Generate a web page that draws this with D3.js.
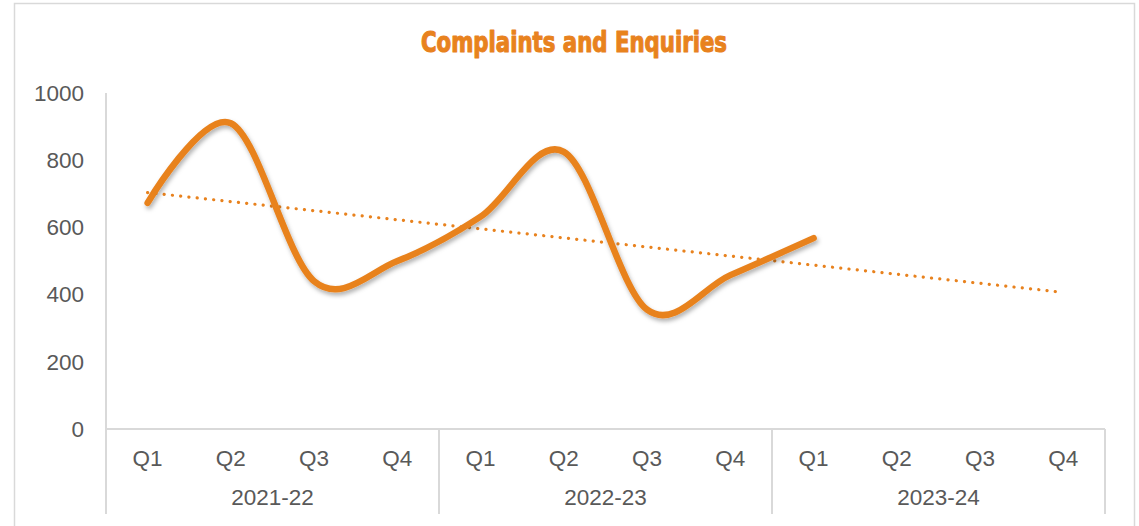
<!DOCTYPE html>
<html>
<head>
<meta charset="utf-8">
<script src="https://cdn.jsdelivr.net/npm/d3@7"></script>
<style>
    html, body { margin: 0; padding: 0; background: #fff; }
    svg { display: block; }
</style>
</head>
<body>
<div id="chart"></div>
<script>
// ==========================================
// DATA
// ==========================================
const years = ['2021-22', '2022-23', '2023-24'];
const quarters = ['Q1', 'Q2', 'Q3', 'Q4'];
const complaints = [673, 910, 440, 500, 632, 825, 355, 458, 568]; // 2023-24 Q2..Q4 not reported yet
const yTicks = [0, 200, 400, 600, 800, 1000];

const OPTS = {
    width: 1139,
    height: 526,
    plot: { left: 106, right: 1105, top: 93, bottom: 429 },
    axisBottom: 514,
    lineColor: '#E8821E',
    gridColor: '#D9D9D9',
    textColor: '#595959',
    labelSize: 22.5,
    font: '"Liberation Sans", Arial, sans-serif'
};

const svg = d3.select('#chart').append('svg')
    .attr('width', OPTS.width)
    .attr('height', OPTS.height);

// drop shadow for the series line
const defs = svg.append('defs');
defs.append('filter')
    .attr('id', 'shadow')
    .attr('x', '-10%').attr('y', '-10%')
    .attr('width', '120%').attr('height', '130%')
    .append('feDropShadow')
    .attr('dx', 1.5).attr('dy', 3)
    .attr('stdDeviation', 2)
    .attr('flood-color', '#000')
    .attr('flood-opacity', 0.3);

// chart frame
svg.append('rect')
    .attr('x', 14.5).attr('y', 3.5)
    .attr('width', 1120).attr('height', 540)
    .attr('fill', 'none')
    .attr('stroke', OPTS.gridColor)
    .attr('stroke-width', 1.5);

// title (condensed heavy face, thickened with a stroke)
svg.append('text')
    .attr('x', 574).attr('y', 52)
    .attr('text-anchor', 'middle')
    .attr('font-family', '"DejaVu Sans Condensed", "Liberation Sans Narrow", sans-serif')
    .attr('font-weight', 'bold')
    .attr('font-size', 29)
    .attr('textLength', 306)
    .attr('lengthAdjust', 'spacingAndGlyphs')
    .attr('fill', OPTS.lineColor)
    .attr('stroke', OPTS.lineColor)
    .attr('stroke-width', 1.1)
    .attr('stroke-linejoin', 'round')
    .text('Complaints and Enquiries');

// ==========================================
// SCALES
// ==========================================
const categories = d3.cross(years, quarters).map(([y, q]) => `${y} ${q}`);
const { plot } = OPTS;

const x = d3.scaleBand().domain(categories).range([plot.left, plot.right]).padding(0);
const y = d3.scaleLinear().domain([0, 1000]).range([plot.bottom, plot.top]);
const xYear = d3.scaleBand().domain(years).range([plot.left, plot.right]).padding(0);
const cx = i => x(categories[i]) + x.bandwidth() / 2;

// ==========================================
// AXES
// ==========================================
const yAxis = d3.axisLeft(y)
    .tickValues(yTicks)
    .tickFormat(d => String(d))
    .tickSize(0)
    .tickPadding(22);
const gy = svg.append('g')
    .attr('transform', `translate(${plot.left},0)`)
    .call(yAxis);
gy.select('.domain').remove();
gy.selectAll('text')
    .attr('font-family', OPTS.font)
    .attr('font-size', OPTS.labelSize)
    .attr('fill', OPTS.textColor);

// value axis line
svg.append('line')
    .attr('x1', plot.left).attr('x2', plot.left)
    .attr('y1', plot.top).attr('y2', OPTS.axisBottom)
    .attr('stroke', OPTS.gridColor).attr('stroke-width', 2);

// category axis line
svg.append('line')
    .attr('x1', plot.left).attr('x2', plot.right)
    .attr('y1', plot.bottom).attr('y2', plot.bottom)
    .attr('stroke', OPTS.gridColor).attr('stroke-width', 2);

// year separators
years.forEach(yr => {
    const xe = xYear(yr) + xYear.bandwidth();
    svg.append('line')
        .attr('x1', xe).attr('x2', xe)
        .attr('y1', plot.bottom).attr('y2', OPTS.axisBottom)
        .attr('stroke', OPTS.gridColor).attr('stroke-width', 2);
});

// quarter labels
svg.append('g').selectAll('text')
    .data(categories)
    .join('text')
    .attr('x', d => x(d) + x.bandwidth() / 2)
    .attr('y', 466)
    .attr('text-anchor', 'middle')
    .attr('font-family', OPTS.font)
    .attr('font-size', OPTS.labelSize)
    .attr('fill', OPTS.textColor)
    .text(d => d.split(' ')[1]);

// year labels
svg.append('g').selectAll('text')
    .data(years)
    .join('text')
    .attr('x', d => xYear(d) + xYear.bandwidth() / 2)
    .attr('y', 505)
    .attr('text-anchor', 'middle')
    .attr('font-family', OPTS.font)
    .attr('font-size', OPTS.labelSize)
    .attr('fill', OPTS.textColor)
    .text(d => d);

// ==========================================
// TREND LINE (linear, forecast to end of axis)
// ==========================================
const xMean = d3.mean(complaints, (_, i) => i);
const yMean = d3.mean(complaints);
const slope = d3.sum(complaints, (v, i) => (i - xMean) * (v - yMean)) /
    d3.sum(complaints, (_, i) => (i - xMean) ** 2);
const trendAt = i => yMean + slope * (i - xMean);

svg.append('line')
    .attr('x1', cx(0)).attr('y1', y(trendAt(0)))
    .attr('x2', cx(categories.length - 1)).attr('y2', y(trendAt(categories.length - 1)))
    .attr('stroke', OPTS.lineColor)
    .attr('stroke-width', 3.2)
    .attr('stroke-linecap', 'round')
    .attr('stroke-dasharray', '0.1 8.2');

// ==========================================
// SERIES LINE
// ==========================================
const line = d3.line()
    .x((_, i) => cx(i))
    .y(d => y(d))
    .curve(d3.curveCardinal.tension(0));

svg.append('path')
    .datum(complaints)
    .attr('d', line)
    .attr('fill', 'none')
    .attr('stroke', OPTS.lineColor)
    .attr('stroke-width', 6.5)
    .attr('stroke-linecap', 'round')
    .attr('stroke-linejoin', 'round')
    .attr('filter', 'url(#shadow)');
</script>
</body>
</html>
